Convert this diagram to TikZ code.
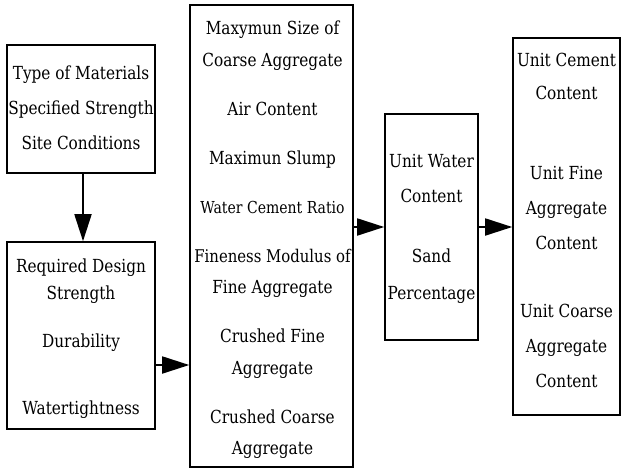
\documentclass[tikz,border=0pt]{standalone}
\usepackage{fontspec}
\setmainfont{DejaVu Serif}[FakeStretch=0.85]
\usetikzlibrary{arrows.meta}
\begin{document}
\begin{tikzpicture}[x=1pt,y=-1pt,
  box/.style={draw, line width=1.6pt, inner sep=0pt},
  txt/.style={inner sep=0pt, text height=13pt, text depth=4pt, font=\fontsize{18}{22}\selectfont},
  arr/.style={line width=1.8pt, -{Triangle[length=27pt,width=17pt]}}]
\useasboundingbox (0,0) rectangle (623,471);
% boxes
\node[box, minimum width=148pt, minimum height=128pt] (b1) at (81,109) {};
\node[box, minimum width=148pt, minimum height=187pt] (b2) at (81,335.5) {};
\node[box, minimum width=163pt, minimum height=462pt] (b3) at (271.5,236) {};
\node[box, minimum width=93pt, minimum height=226pt] (b4) at (431.5,227) {};
\node[box, minimum width=107pt, minimum height=377pt] (b5) at (566.5,226.5) {};
% box 1
\node[txt] (a1) at (81,75) {Type of Materials};
\node[txt] (a2) at (81,110) {Specified Strength};
\node[txt] (a3) at (81,145) {Site Conditions};
% box 2
\node[txt] (c1) at (81,268) {Required Design};
\node[txt] (c2) at (81,295) {Strength};
\node[txt] (c3) at (81,343) {Durability};
\node[txt] (c4) at (81,410) {Watertightness};
% box 3
\node[txt] (d1) at (272.5,30) {Maxymun Size of};
\node[txt] (d2) at (272.5,61.5) {Coarse Aggregate};
\node[txt] (d3) at (272.5,110.5) {Air Content};
\node[txt] (d4) at (272.5,159.5) {Maximun Slump};
\node[txt, font=\fontsize{16.5}{20}\selectfont] (d5) at (272.5,208.5) {Water Cement Ratio};
\node[txt, font=\fontsize{17.5}{21}\selectfont] (d6) at (272.5,257.5) {Fineness Modulus of};
\node[txt] (d7) at (272.5,289) {Fine Aggregate};
\node[txt] (d8) at (272.5,338) {Crushed Fine};
\node[txt] (d9) at (272.5,369.5) {Aggregate};
\node[txt] (d10) at (272.5,418.5) {Crushed Coarse};
\node[txt] (d11) at (272.5,450) {Aggregate};
% box 4
\node[txt] (e1) at (431.5,163) {Unit Water};
\node[txt] (e2) at (431.5,198) {Content};
\node[txt] (e3) at (431.5,258) {Sand};
\node[txt] (e4) at (431.5,295) {Percentage};
% box 5
\node[txt] (f1) at (566.5,62) {Unit Cement};
\node[txt] (f2) at (566.5,95) {Content};
\node[txt] (f3) at (566.5,175) {Unit Fine};
\node[txt] (f4) at (566.5,210) {Aggregate};
\node[txt] (f5) at (566.5,245) {Content};
\node[txt] (f6) at (566.5,313) {Unit Coarse};
\node[txt] (f7) at (566.5,348) {Aggregate};
\node[txt] (f8) at (566.5,383) {Content};
% arrows
\draw[arr] ([xshift=2pt]b1.south) -- ([xshift=2pt]b2.north);
\coordinate (p2) at ([yshift=-29.5pt]b2.east);
\draw[arr] (p2) -- (p2 -| b3.west);
\draw[arr] (b3.east |- b4.west) -- (b4.west);
\draw[arr] (b4.east) -- (b4.east -| b5.west);
\end{tikzpicture}
\end{document}
